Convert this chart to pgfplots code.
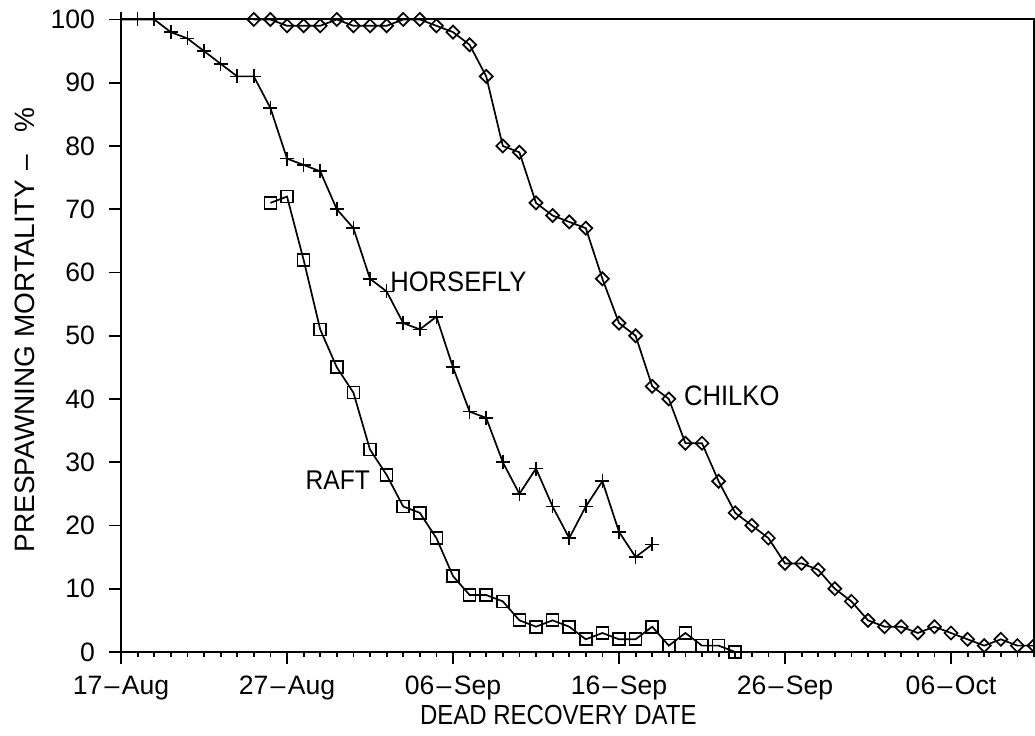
\documentclass[border=0pt]{standalone}
\usepackage{fontspec}
\setmainfont{Liberation Sans}
\usepackage{graphicx}
\usepackage{pgfplots}
\pgfplotsset{compat=1.18}
\newcommand{\dl}[2]{#1{\kern1.2bp}--{\kern1.2bp}#2}
\begin{document}
\begin{tikzpicture}[font=\fontsize{12bp}{14bp}\selectfont]
\begin{axis}[
  x=8.3bp, y=3.1625bp,
  xmin=0, xmax=55, ymin=0, ymax=100,
  axis line style={line width=1bp},
  xtick={0,10,20,30,40,50},
  xticklabels={\dl{17}{Aug},\dl{27}{Aug},\dl{06}{Sep},\dl{16}{Sep},\dl{26}{Sep},\dl{06}{Oct}},
  minor xtick={0,1,...,55},
  ytick={0,10,...,100},
  tick align=outside,
  xtick pos=bottom, ytick pos=left,
  major tick length=6bp,
  minor tick length=2.5bp,
  every tick/.style={black, line width=0.9bp},
  /pgf/number format/assume math mode=true,
  tick label style={font=\fontsize{13.3bp}{15bp}\selectfont},
  yticklabel style={xshift=-3.5bp},
  xticklabel style={yshift=-2.5bp},
  clip=false,
  xlabel={\scalebox{1}[1.15]{DEAD RECOVERY DATE}},
  ylabel={PRESPAWNING MORTALITY\hspace{5bp}--\hspace{11bp}\%},
  xlabel style={at={(rel axis cs:0.479,-0.0996)}, anchor=center},
  ylabel style={at={(rel axis cs:-0.105,0.509)}, anchor=center, font=\fontsize{14bp}{16bp}\selectfont},
  every axis plot/.append style={black, line width=0.85bp, mark options={solid, line width=0.85bp, fill=none}},
]
% HORSEFLY
\addplot[mark=+, mark size=3.5bp] coordinates {
(0,100)(1,100)(2,100)(3,98)(4,97)(5,95)(6,93)(7,91)(8,91)(9,86)(10,78)
(11,77)(12,76)(13,70)(14,67)(15,59)(16,57)(17,52)(18,51)(19,53)(20,45)
(21,38)(22,37)(23,30)(24,25)(25,29)(26,23)(27,18)(28,23)(29,27)(30,19)
(31,15)(32,17)};
% RAFT
\addplot[mark=square, mark size=3bp] coordinates {
(9,71)(10,72)(11,62)(12,51)(13,45)(14,41)(15,32)(16,28)(17,23)(18,22)
(19,18)(20,12)(21,9)(22,9)(23,8)(24,5)(25,4)(26,5)(27,4)(28,2)(29,3)
(30,2)(31,2)(32,4)(33,1)(34,3)(35,1)(36,1)(37,0)};
% CHILKO
\addplot[mark=square, mark size=2.3bp, mark options={rotate=45}] coordinates {
(8,100)(9,100)(10,99)(11,99)(12,99)(13,100)(14,99)(15,99)(16,99)(17,100)
(18,100)(19,99)(20,98)(21,96)(22,91)(23,80)(24,79)(25,71)(26,69)(27,68)
(28,67)(29,59)(30,52)(31,50)(32,42)(33,40)(34,33)(35,33)(36,27)(37,22)
(38,20)(39,18)(40,14)(41,14)(42,13)(43,10)(44,8)(45,5)(46,4)(47,4)
(48,3)(49,4)(50,3)(51,2)(52,1)(53,2)(54,1)(55,1)};
\node[anchor=west, inner sep=0pt, font=\fontsize{12.8bp}{15bp}\selectfont] at (axis cs:16.2,58.5) {\scalebox{1}[1.1]{HORSEFLY}};
\node[anchor=west, inner sep=0pt, font=\fontsize{12.8bp}{15bp}\selectfont] at (axis cs:33.9,40.5) {\scalebox{1}[1.1]{CHILKO}};
\node[anchor=west, inner sep=0pt, font=\fontsize{12.3bp}{15bp}\selectfont] at (axis cs:11.1,27.2) {\scalebox{1}[1.1]{RAFT}};
\coordinate (BL) at (axis cs:-7.29,-13.28);
\coordinate (TR) at (axis cs:55.06,103.08);
\end{axis}
\pgfresetboundingbox
\path[use as bounding box] (BL) rectangle (TR);
\end{tikzpicture}
\end{document}
